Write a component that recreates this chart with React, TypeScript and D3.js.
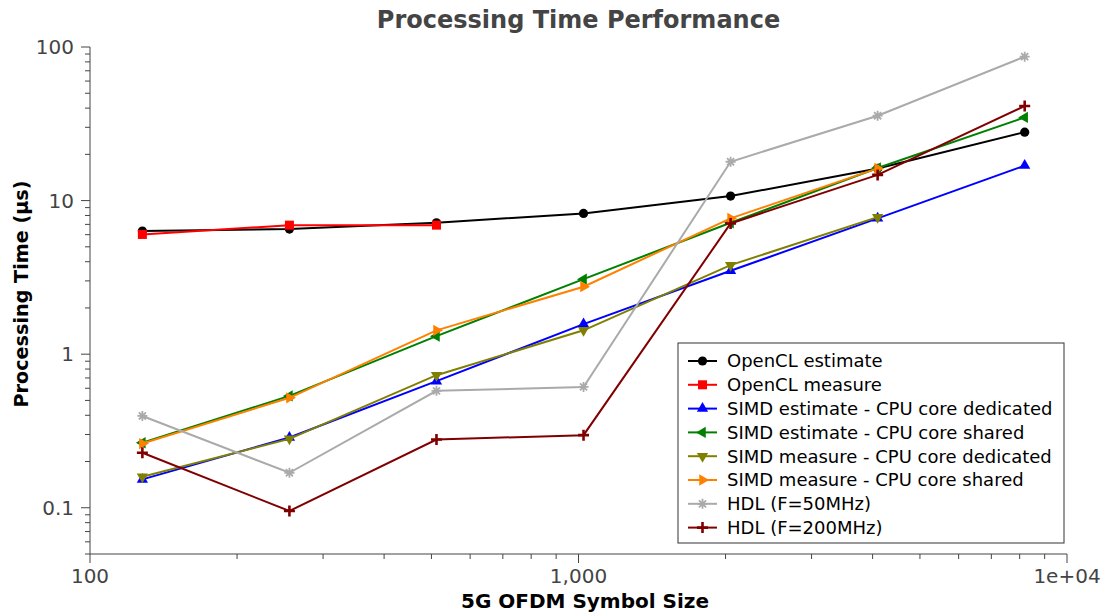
import * as d3 from "d3";

const sizes = [128, 256, 512, 1024, 2048, 4096, 8192];

const openclEstimate = [6.33, 6.52, 7.17, 8.25, 10.7, 16.2, 27.9];
const openclMeasure = [6.02, 6.92, 6.92];
const simdEstDedicated = [0.153, 0.287, 0.667, 1.57, 3.49, 7.66, 16.9];
const simdEstShared = [0.265, 0.535, 1.31, 3.08, 7.17, 16.3, 34.8];
const simdMeasDedicated = [0.159, 0.281, 0.73, 1.43, 3.8, 7.8];
const simdMeasShared = [0.262, 0.52, 1.43, 2.75, 7.66, 16.2];
const hdl50 = [0.396, 0.169, 0.577, 0.612, 17.9, 35.7, 86.5];
const hdl200 = [0.228, 0.0953, 0.278, 0.297, 7.1, 14.7, 41.3];

const seriesNames = [
  "OpenCL estimate",
  "OpenCL measure",
  "SIMD estimate - CPU core dedicated",
  "SIMD estimate - CPU core shared",
  "SIMD measure - CPU core dedicated",
  "SIMD measure - CPU core shared",
  "HDL (F=50MHz)",
  "HDL (F=200MHz)",
];
const seriesValues = [
  openclEstimate, openclMeasure, simdEstDedicated, simdEstShared,
  simdMeasDedicated, simdMeasShared, hdl50, hdl200,
];
const seriesColors = ["#000000", "#ff0000", "#0000ff", "#008000", "#808000", "#ff8000", "#aaaaaa", "#800000"];
const seriesMarkers = ["circle", "square", "up", "left", "down", "right", "asterisk", "plus"];

const xMajor = [100, 1000, 10000];
const xMajorLabels = ["100", "1,000", "1e+04"];
const yMajor = [0.1, 1, 10, 100];
const yMajorLabels = ["0.1", "1", "10", "100"];

const W = 1104, H = 614;
const M = { left: 90, right: 37, top: 47, bottom: 60 };
const FONT = "'DejaVu Sans', sans-serif";

function Marker({ kind, color, x, y }: { kind: string; color: string; x: number; y: number }) {
  const tri = d3.symbol().type(d3.symbolTriangle).size(55)() as string;
  if (kind === "circle") return <circle cx={x} cy={y} r={4.6} fill={color} />;
  if (kind === "square") return <rect x={x - 4.5} y={y - 4.5} width={9} height={9} fill={color} />;
  if (kind === "up" || kind === "down" || kind === "left" || kind === "right") {
    const rot = { up: 0, right: 90, down: 180, left: 270 }[kind];
    return <path d={tri} fill={color} transform={`translate(${x},${y}) rotate(${rot})`} />;
  }
  if (kind === "asterisk") {
    const r = 5;
    const d = [0, 45, 90, 135].map(a => {
      const c = Math.cos((a * Math.PI) / 180) * r, s = Math.sin((a * Math.PI) / 180) * r;
      return `M${x - c},${y - s}L${x + c},${y + s}`;
    }).join("");
    return <path d={d} stroke={color} strokeWidth={1.8} fill="none" />;
  }
  // plus
  const r = 5.5;
  return <path d={`M${x - r},${y}L${x + r},${y}M${x},${y - r}L${x},${y + r}`} stroke={color} strokeWidth={2.6} fill="none" />;
}

export default function App() {
  const x = d3.scaleLog().domain([100, 10000]).range([M.left, W - M.right]);
  const y = d3.scaleLog().domain([0.05, 100]).range([H - M.bottom, M.top]);
  const line = d3.line<[number, number]>().x(d => x(d[0])).y(d => y(d[1]));

  const xMinor = x.ticks().filter(t => !xMajor.includes(t));
  const yMinor = y.ticks().filter(t => !yMajor.some(m => Math.abs(m - t) < 1e-9));
  const axisColor = "#444";
  const y0 = H - M.bottom;

  const legX = 678, legY = 343, legW = 386, legH = 200, rowH = 23.8;

  return (
    <svg width={W} height={H} style={{ position: "absolute", left: 0, top: 0, background: "#fff" }} fontFamily={FONT}>
      <text x={(M.left + W - M.right) / 2} y={28} textAnchor="middle" fontSize={24} fontWeight="bold" fill="#444">
        Processing Time Performance
      </text>

      {/* axes */}
      <line x1={M.left} x2={M.left} y1={M.top} y2={y0} stroke={axisColor} />
      <line x1={M.left} x2={W - M.right} y1={y0} y2={y0} stroke={axisColor} />
      {yMajor.map((t, i) => (
        <g key={"ym" + t}>
          <line x1={M.left - 9} x2={M.left} y1={y(t)} y2={y(t)} stroke={axisColor} />
          <text x={M.left - 16} y={y(t)} dy="0.36em" textAnchor="end" fontSize={20} fill="#444">{yMajorLabels[i]}</text>
        </g>
      ))}
      {yMinor.map(t => (
        <line key={"yn" + t} x1={M.left - 5} x2={M.left} y1={y(t)} y2={y(t)} stroke={axisColor} />
      ))}
      {xMajor.map((t, i) => (
        <g key={"xm" + t}>
          <line x1={x(t)} x2={x(t)} y1={y0} y2={y0 + 9} stroke={axisColor} />
          <text x={x(t)} y={583} textAnchor="middle" fontSize={20} fill="#444">{xMajorLabels[i]}</text>
        </g>
      ))}
      {xMinor.map(t => (
        <line key={"xn" + t} x1={x(t)} x2={x(t)} y1={y0} y2={y0 + 5} stroke={axisColor} />
      ))}

      <text transform={`translate(28,294) rotate(-90)`} textAnchor="middle" fontSize={19.2} fontWeight="bold" fill="#000">
        Processing Time (µs)
      </text>
      <text x={585} y={608} textAnchor="middle" fontSize={20} fontWeight="bold" fill="#000">
        5G OFDM Symbol Size
      </text>

      {/* series */}
      {seriesValues.map((vals, si) => {
        const pts = vals.map((v, i) => [sizes[i], v] as [number, number]);
        return (
          <g key={seriesNames[si]}>
            <path d={line(pts) as string} fill="none" stroke={seriesColors[si]} strokeWidth={2} />
            {pts.map((p, i) => (
              <Marker key={i} kind={seriesMarkers[si]} color={seriesColors[si]} x={x(p[0])} y={y(p[1])} />
            ))}
          </g>
        );
      })}

      {/* legend */}
      <rect x={legX} y={legY} width={legW} height={legH} fill="#fff" stroke="#333" />
      {seriesNames.map((name, i) => {
        const cy = legY + 18 + i * rowH;
        return (
          <g key={"leg" + name}>
            <line x1={legX + 10} x2={legX + 39} y1={cy} y2={cy} stroke={seriesColors[i]} strokeWidth={2} />
            <Marker kind={seriesMarkers[i]} color={seriesColors[i]} x={legX + 24.5} y={cy} />
            <text x={legX + 49} y={cy} dy="0.36em" fontSize={18} fill="#000">{name}</text>
          </g>
        );
      })}
    </svg>
  );
}
